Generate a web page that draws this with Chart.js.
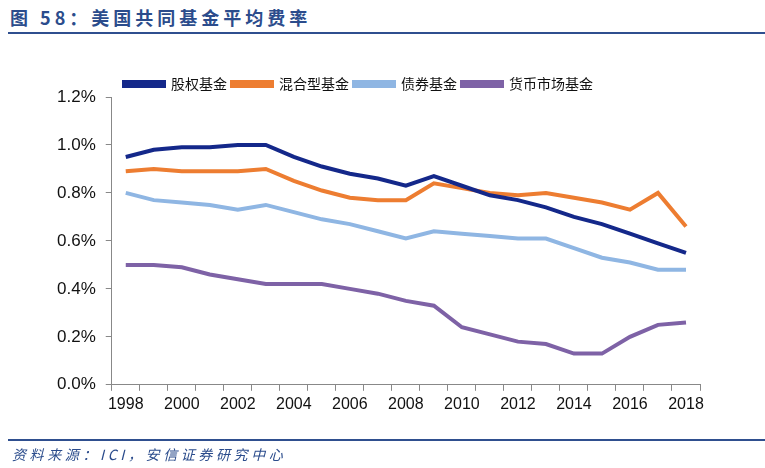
<!DOCTYPE html>
<html><head><meta charset="utf-8">
<script src="https://cdn.jsdelivr.net/npm/chart.js@4"></script>
<style>
html,body{margin:0;padding:0;background:#fff;width:765px;height:468px;overflow:hidden;}
#title{position:absolute;left:10px;top:5px;font-family:"Noto Sans CJK SC","Liberation Sans",sans-serif;font-weight:bold;font-size:18px;letter-spacing:4px;color:#2B4C8C;white-space:nowrap;line-height:24px;}
#tline{position:absolute;left:8px;right:0;top:32px;height:2px;background:#2F4F8F;}
#bline{position:absolute;left:8px;right:0;top:439px;height:2px;background:#2F4F8F;}
#foot{position:absolute;left:12px;top:444px;font-family:"Noto Sans CJK SC","Liberation Sans",sans-serif;font-style:italic;font-size:14px;letter-spacing:3.6px;color:#2B4C8C;white-space:nowrap;line-height:20px;}
#wrap{position:absolute;left:0;top:0;width:765px;height:468px;}
</style></head><body>
<div id="title">图 58：美国共同基金平均费率</div>
<div id="tline"></div>
<div id="wrap"><canvas id="c"></canvas></div>
<div id="bline"></div>
<div id="foot">资料来源：ICI，安信证券研究中心</div>
<script>
const years = ['1998','1999','2000','2001','2002','2003','2004','2005','2006','2007','2008','2009','2010','2011','2012','2013','2014','2015','2016','2017','2018'];
const equity = [0.95,0.98,0.99,0.99,1.00,1.00,0.95,0.91,0.88,0.86,0.83,0.87,0.83,0.79,0.77,0.74,0.70,0.67,0.63,0.59,0.55];
const hybrid = [0.89,0.90,0.89,0.89,0.89,0.90,0.85,0.81,0.78,0.77,0.77,0.84,0.82,0.80,0.79,0.80,0.78,0.76,0.73,0.80,0.66];
const bond = [0.80,0.77,0.76,0.75,0.73,0.75,0.72,0.69,0.67,0.64,0.61,0.64,0.63,0.62,0.61,0.61,0.57,0.53,0.51,0.48,0.48];
const money = [0.50,0.50,0.49,0.46,0.44,0.42,0.42,0.42,0.40,0.38,0.35,0.33,0.24,0.21,0.18,0.17,0.13,0.13,0.20,0.25,0.26];
const seriesNames = ['股权基金','混合型基金','债券基金','货币市场基金'];
const colors = ['#14288A','#ED7D31','#8FB6E3','#7E62A6'];
const yTicks = [0,0.2,0.4,0.6,0.8,1.0,1.2];

const mk = (i, d) => ({label: seriesNames[i], data: d, borderColor: colors[i], backgroundColor: colors[i], borderWidth: 4, pointRadius: 0, tension: 0, fill: false});

const legendShift = {
  id: 'legendShift',
  afterLayout(chart) {
    const lg = chart.legend;
    if (!lg) return;
    lg.left -= 30;
    lg.top += 4; lg.bottom += 4;
    if (lg.legendHitBoxes) lg.legendHitBoxes.forEach(b => { b.left -= 15; b.top += 4; });
  }
};

new Chart(document.getElementById('c'), {
  type: 'line',
  data: { labels: years, datasets: [mk(0,equity), mk(1,hybrid), mk(2,bond), mk(3,money)] },
  plugins: [legendShift],
  options: {
    responsive: true, maintainAspectRatio: false, animation: false,
    layout: { padding: { top: 68, left: 47, right: 65, bottom: 50 } },
    plugins: {
      legend: {
        display: true, position: 'top', align: 'center',
        labels: { boxWidth: 40, boxHeight: 4, padding: 5, color: '#111',
          font: { family: '"Noto Sans CJK SC", sans-serif', size: 14 } }
      },
      tooltip: { enabled: false }
    },
    scales: {
      x: {
        offset: true,
        grid: { display: true, drawOnChartArea: false, drawTicks: true, tickLength: 6, offset: true, color: '#888' },
        border: { display: true, color: '#888', width: 1 },
        ticks: { autoSkip: false, maxRotation: 0, color: '#111', padding: 4,
          font: { family: '"Liberation Sans", Arial, sans-serif', size: 16 },
          callback: function(v, i) { return i % 2 === 0 ? years[i] : ''; } }
      },
      y: {
        min: yTicks[0], max: yTicks[yTicks.length-1],
        afterBuildTicks: (ax) => { ax.ticks = yTicks.map(v => ({value: v})); },
        grid: { display: true, drawOnChartArea: false, drawTicks: true, tickLength: 6, color: '#888' },
        border: { display: true, color: '#888', width: 1 },
        ticks: { color: '#111', padding: 10,
          font: { family: '"Liberation Sans", Arial, sans-serif', size: 17 },
          callback: (v) => Number(v).toFixed(1) + '%' }
      }
    }
  }
});
</script>
</body></html>
